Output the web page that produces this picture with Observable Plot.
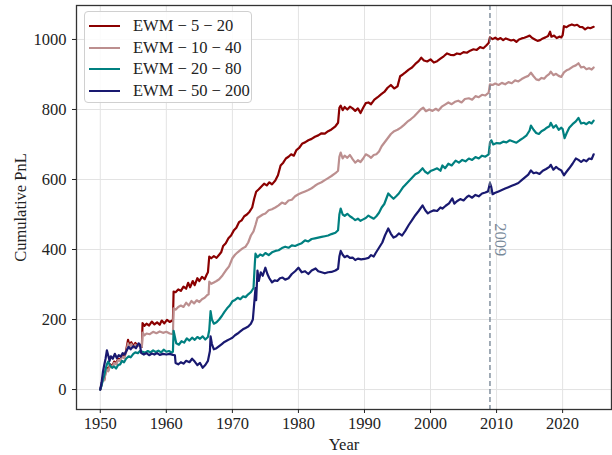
<!DOCTYPE html>
<html>
<head>
<meta charset="utf-8">
<script src="https://cdn.jsdelivr.net/npm/d3@7"></script>
<script src="https://cdn.jsdelivr.net/npm/@observablehq/plot@0.6"></script>
<style>
  html, body { margin: 0; padding: 0; background: #fff; }
  #wrap { position: relative; width: 612px; height: 455px; font-family: "Liberation Serif", "DejaVu Serif", serif; }
  #legend { position: absolute; left: 84px; top: 11px; width: 168px; height: 92px; box-sizing: border-box;
    border: 1px solid #d0d0d0; border-radius: 4px; background: rgba(255,255,255,0.85); }
  .row { position: absolute; left: 0; height: 20px; display: flex; align-items: center; font-size: 16.5px; color: #222; white-space: nowrap; }
  .sw { width: 31px; height: 2px; margin-left: 4px; margin-right: 13px; }
</style>
</head>
<body>
<div id="wrap"></div>
<script>
const seriesNames = ["EWM \u2212 5 \u2212 20", "EWM \u2212 10 \u2212 40", "EWM \u2212 20 \u2212 80", "EWM \u2212 50 \u2212 200"];
const seriesColors = ["#8b0000", "#bc8f8f", "#008080", "#191970"];
const xTicks = [1950, 1960, 1970, 1980, 1990, 2000, 2010, 2020];
const yTicks = [0, 200, 400, 600, 800, 1000];
const eventYear = [2009];
const eventLabel = ["2009"];

const ewm5_20 = [[1950.0,0],[1950.2,15],[1950.4,35],[1950.6,28],[1950.8,50],[1951.0,62],[1951.2,55],[1951.5,72],[1951.8,66],[1952.1,80],[1952.4,74],[1952.7,88],[1953.0,85],[1953.3,98],[1953.6,92],[1953.9,110],[1954.2,142],[1954.4,128],[1954.7,135],[1955.0,124],[1955.3,133],[1955.6,126],[1956.0,128],[1956.3,122],[1956.4,190],[1956.7,182],[1957.0,188],[1957.4,183],[1957.8,194],[1958.2,186],[1958.6,192],[1959.0,185],[1959.3,197],[1959.7,189],[1960.1,199],[1960.5,193],[1960.9,197],[1961.0,196],[1961.1,280],[1961.4,278],[1961.8,286],[1962.2,282],[1962.6,294],[1963.0,288],[1963.3,305],[1963.6,292],[1964.0,310],[1964.3,298],[1964.7,318],[1965.0,310],[1965.4,322],[1965.8,315],[1966.1,328],[1966.3,335],[1966.5,380],[1966.8,375],[1967.2,381],[1967.6,376],[1968.0,385],[1968.3,392],[1968.6,410],[1969.0,418],[1969.4,432],[1969.8,440],[1970.2,454],[1970.6,462],[1971.0,478],[1971.4,483],[1971.8,495],[1972.2,500],[1972.6,508],[1973.0,520],[1973.3,545],[1973.6,565],[1974.0,572],[1974.4,580],[1974.8,588],[1975.2,583],[1975.6,592],[1976.0,586],[1976.5,597],[1976.9,612],[1977.3,640],[1977.7,648],[1978.1,660],[1978.5,665],[1978.9,672],[1979.3,668],[1979.7,684],[1980.1,690],[1980.6,703],[1981.0,706],[1981.5,712],[1982.0,716],[1982.5,722],[1983.0,726],[1983.5,732],[1984.0,731],[1984.5,738],[1985.0,743],[1985.6,752],[1986.0,762],[1986.2,805],[1986.4,811],[1986.7,798],[1987.0,807],[1987.4,800],[1987.8,808],[1988.2,803],[1988.6,796],[1989.0,803],[1989.4,790],[1989.8,805],[1990.2,818],[1990.6,820],[1991.0,815],[1991.5,828],[1992.0,835],[1992.5,843],[1993.0,850],[1993.5,862],[1994.0,870],[1994.5,860],[1995.0,866],[1995.4,895],[1995.8,900],[1996.2,906],[1996.7,914],[1997.2,920],[1997.7,930],[1998.2,938],[1998.6,948],[1999.0,940],[1999.5,937],[2000.0,943],[2000.5,934],[2001.0,938],[2001.5,945],[2002.0,952],[2002.5,960],[2003.0,956],[2003.5,955],[2004.0,960],[2004.5,958],[2005.0,964],[2005.5,962],[2006.0,968],[2006.5,972],[2007.0,970],[2007.5,978],[2008.0,975],[2008.4,982],[2008.8,990],[2009.0,1006],[2009.4,1001],[2009.8,1005],[2010.2,1000],[2010.6,1004],[2011.0,998],[2011.4,1003],[2011.8,1000],[2012.2,997],[2012.6,999],[2013.0,993],[2013.4,1000],[2013.8,1003],[2014.2,1005],[2014.6,1008],[2015.0,1011],[2015.4,1004],[2015.8,1000],[2016.2,996],[2016.6,998],[2017.0,1003],[2017.4,1006],[2017.8,1010],[2018.1,1022],[2018.3,1008],[2018.7,1011],[2019.1,1004],[2019.5,1008],[2019.8,1006],[2020.0,1012],[2020.2,1038],[2020.6,1035],[2021.0,1040],[2021.4,1043],[2021.8,1040],[2022.2,1042],[2022.6,1036],[2023.0,1035],[2023.4,1029],[2023.8,1034],[2024.2,1032],[2024.7,1036]];

const ewm10_40 = [[1950.0,0],[1950.2,14],[1950.4,32],[1950.6,26],[1950.8,48],[1951.0,58],[1951.2,52],[1951.5,68],[1951.8,64],[1952.1,76],[1952.4,72],[1952.7,84],[1953.0,82],[1953.3,94],[1953.6,90],[1953.9,105],[1954.2,132],[1954.4,122],[1954.7,130],[1955.0,120],[1955.3,128],[1955.6,124],[1956.0,126],[1956.3,122],[1956.4,163],[1956.7,155],[1957.0,160],[1957.5,158],[1958.0,165],[1958.5,161],[1959.0,166],[1959.5,162],[1960.0,165],[1960.5,160],[1961.0,158],[1961.1,232],[1961.4,228],[1961.8,236],[1962.2,240],[1962.6,236],[1963.0,248],[1963.4,240],[1963.8,253],[1964.2,246],[1964.6,255],[1965.0,250],[1965.4,258],[1965.8,262],[1966.2,270],[1966.4,272],[1966.5,308],[1966.8,302],[1967.2,306],[1967.6,310],[1968.0,315],[1968.5,326],[1969.0,340],[1969.5,352],[1970.0,375],[1970.4,385],[1970.8,392],[1971.2,398],[1971.6,404],[1972.0,408],[1972.4,420],[1972.8,440],[1973.2,452],[1973.5,470],[1973.8,490],[1974.2,495],[1974.6,500],[1975.0,503],[1975.5,512],[1976.0,515],[1976.5,520],[1977.0,526],[1977.5,534],[1978.0,530],[1978.5,540],[1979.0,542],[1979.5,552],[1980.0,558],[1980.5,562],[1981.0,566],[1981.5,570],[1982.0,575],[1982.5,582],[1983.0,588],[1983.5,592],[1984.0,598],[1984.5,604],[1985.0,610],[1985.6,618],[1986.0,625],[1986.2,665],[1986.4,677],[1986.7,660],[1987.0,668],[1987.4,662],[1987.8,670],[1988.2,658],[1988.6,648],[1989.0,655],[1989.4,650],[1989.8,660],[1990.2,672],[1990.6,668],[1991.0,662],[1991.4,670],[1991.8,672],[1992.2,680],[1992.6,695],[1993.0,705],[1993.6,720],[1994.0,730],[1994.5,738],[1995.0,742],[1995.5,748],[1996.0,756],[1996.5,765],[1997.0,772],[1997.5,780],[1998.0,790],[1998.5,800],[1998.9,805],[1999.3,795],[1999.8,800],[2000.3,796],[2000.8,802],[2001.2,797],[2001.7,808],[2002.2,814],[2002.7,820],[2003.2,815],[2003.7,822],[2004.2,825],[2004.7,820],[2005.2,830],[2005.8,832],[2006.3,828],[2006.8,838],[2007.3,835],[2007.8,842],[2008.3,840],[2008.8,848],[2009.0,872],[2009.4,870],[2009.8,874],[2010.3,870],[2010.8,876],[2011.3,872],[2011.8,878],[2012.3,875],[2012.8,883],[2013.3,880],[2013.8,887],[2014.3,892],[2014.8,896],[2015.2,905],[2015.6,895],[2016.0,886],[2016.4,884],[2016.8,890],[2017.2,888],[2017.6,896],[2018.0,902],[2018.2,908],[2018.6,898],[2019.0,902],[2019.4,896],[2019.8,893],[2020.2,906],[2020.6,912],[2021.0,915],[2021.5,922],[2022.0,926],[2022.4,932],[2022.8,920],[2023.2,922],[2023.6,915],[2024.0,918],[2024.4,914],[2024.7,920]];

const ewm20_80 = [[1950.0,0],[1950.2,12],[1950.4,28],[1950.6,40],[1950.8,58],[1951.0,72],[1951.2,80],[1951.5,68],[1951.8,62],[1952.1,66],[1952.4,60],[1952.7,70],[1953.0,72],[1953.3,82],[1953.6,78],[1953.9,88],[1954.3,95],[1954.6,92],[1955.0,102],[1955.3,106],[1955.7,104],[1956.0,110],[1956.4,108],[1956.8,105],[1957.2,110],[1957.6,106],[1958.0,112],[1958.4,107],[1958.8,111],[1959.2,106],[1959.6,114],[1960.0,108],[1960.4,110],[1960.8,106],[1961.0,108],[1961.1,168],[1961.3,150],[1961.5,132],[1961.9,128],[1962.3,138],[1962.7,134],[1963.1,146],[1963.5,140],[1963.9,148],[1964.3,142],[1964.7,150],[1965.1,145],[1965.5,152],[1965.9,143],[1966.3,150],[1966.5,170],[1966.7,224],[1966.9,200],[1967.2,188],[1967.6,192],[1968.0,200],[1968.4,210],[1968.8,222],[1969.2,232],[1969.6,240],[1970.0,252],[1970.4,256],[1970.8,262],[1971.2,258],[1971.6,266],[1972.0,264],[1972.4,272],[1972.8,278],[1973.2,290],[1973.4,360],[1973.5,388],[1973.8,378],[1974.2,386],[1974.6,382],[1975.0,390],[1975.5,384],[1976.0,392],[1976.5,396],[1977.0,398],[1977.5,404],[1978.0,408],[1978.5,405],[1979.0,412],[1979.5,410],[1980.0,414],[1980.5,418],[1981.0,426],[1981.5,423],[1982.0,430],[1982.5,432],[1983.0,434],[1983.5,436],[1984.0,438],[1984.5,440],[1985.0,444],[1985.6,448],[1986.0,455],[1986.2,500],[1986.4,517],[1986.7,500],[1987.0,496],[1987.4,502],[1987.8,495],[1988.2,490],[1988.6,484],[1989.0,488],[1989.4,482],[1989.8,486],[1990.2,490],[1990.6,497],[1991.0,492],[1991.4,488],[1991.8,495],[1992.2,505],[1992.6,520],[1993.0,530],[1993.6,560],[1994.0,552],[1994.4,545],[1994.8,552],[1995.2,560],[1995.8,577],[1996.2,585],[1996.7,595],[1997.2,605],[1997.7,615],[1998.2,620],[1998.8,632],[1999.2,622],[1999.6,617],[2000.0,624],[2000.5,628],[2001.0,632],[2001.5,625],[2001.8,640],[2002.2,632],[2002.7,645],[2003.2,640],[2003.8,654],[2004.3,648],[2004.8,656],[2005.3,652],[2005.8,660],[2006.3,656],[2006.8,664],[2007.3,660],[2007.8,668],[2008.3,665],[2008.8,672],[2009.0,705],[2009.2,712],[2009.5,700],[2010.0,704],[2010.5,703],[2011.0,708],[2011.5,706],[2012.0,712],[2012.6,708],[2013.0,705],[2013.5,712],[2014.0,718],[2014.5,725],[2015.0,740],[2015.2,754],[2015.6,742],[2016.0,733],[2016.4,730],[2016.8,738],[2017.2,742],[2017.6,748],[2018.0,752],[2018.2,762],[2018.6,748],[2019.0,755],[2019.4,742],[2019.8,748],[2020.0,744],[2020.3,718],[2020.6,732],[2021.0,748],[2021.5,758],[2022.0,766],[2022.4,776],[2022.8,760],[2023.2,762],[2023.6,758],[2024.0,764],[2024.4,760],[2024.7,768]];

const ewm50_200 = [[1950.0,0],[1950.2,20],[1950.4,50],[1950.6,70],[1950.8,88],[1951.0,112],[1951.2,98],[1951.4,82],[1951.6,95],[1951.9,88],[1952.2,102],[1952.5,90],[1952.8,98],[1953.1,94],[1953.4,104],[1953.7,100],[1954.0,112],[1954.3,122],[1954.6,115],[1955.0,124],[1955.4,118],[1955.8,132],[1956.0,128],[1956.2,104],[1956.6,100],[1957.0,104],[1957.4,98],[1957.8,103],[1958.2,100],[1958.6,104],[1959.0,99],[1959.5,102],[1960.0,100],[1960.5,102],[1961.0,99],[1961.3,98],[1961.4,76],[1961.8,72],[1962.2,78],[1962.6,74],[1963.0,82],[1963.5,78],[1963.9,88],[1964.3,80],[1964.7,70],[1965.1,76],[1965.5,62],[1965.9,70],[1966.3,82],[1966.6,110],[1966.7,152],[1966.9,130],[1967.2,115],[1967.6,118],[1968.0,124],[1968.4,130],[1968.8,136],[1969.2,140],[1969.6,144],[1970.0,148],[1970.4,155],[1970.8,160],[1971.2,166],[1971.6,172],[1972.0,176],[1972.4,180],[1972.8,188],[1973.1,200],[1973.3,245],[1973.5,290],[1973.6,255],[1973.8,340],[1974.0,310],[1974.3,335],[1974.6,325],[1975.0,348],[1975.3,330],[1975.6,318],[1976.0,306],[1976.4,312],[1976.8,310],[1977.2,318],[1977.6,320],[1978.0,314],[1978.5,318],[1979.0,330],[1979.5,338],[1980.0,348],[1980.5,335],[1981.0,338],[1981.5,330],[1982.0,340],[1982.6,346],[1983.0,338],[1983.5,335],[1984.0,332],[1984.5,335],[1985.0,336],[1985.6,340],[1986.0,345],[1986.2,380],[1986.4,396],[1986.7,385],[1987.0,378],[1987.4,382],[1987.8,376],[1988.2,377],[1988.6,370],[1989.0,374],[1989.5,372],[1990.0,373],[1990.6,376],[1991.0,384],[1991.4,380],[1991.7,390],[1992.2,405],[1992.7,420],[1993.1,440],[1993.6,460],[1994.0,445],[1994.4,434],[1994.8,438],[1995.2,446],[1995.7,440],[1996.2,454],[1996.7,470],[1997.2,484],[1997.7,498],[1998.2,510],[1998.8,526],[1999.2,512],[1999.6,503],[2000.0,508],[2000.5,512],[2001.0,510],[2001.5,520],[2001.8,517],[2002.3,525],[2002.8,532],[2003.3,546],[2003.6,531],[2004.0,538],[2004.5,544],[2005.0,540],[2005.5,550],[2005.8,554],[2006.3,548],[2006.8,556],[2007.3,552],[2007.8,560],[2008.3,563],[2008.7,566],[2009.0,590],[2009.2,578],[2009.4,558],[2009.8,562],[2010.3,566],[2010.8,570],[2011.3,574],[2011.8,578],[2012.3,582],[2012.8,586],[2013.3,590],[2013.8,598],[2014.3,606],[2014.8,614],[2015.2,626],[2015.6,618],[2016.0,620],[2016.5,616],[2017.0,625],[2017.5,630],[2018.0,636],[2018.2,642],[2018.6,628],[2019.0,636],[2019.4,630],[2019.8,626],[2020.2,612],[2020.5,620],[2021.0,632],[2021.5,645],[2022.0,660],[2022.4,656],[2022.8,650],[2023.2,656],[2023.6,652],[2024.0,660],[2024.4,658],[2024.7,672]];

const allSeries = [ewm5_20, ewm10_40, ewm20_80, ewm50_200];

const chart = Plot.plot({
  width: 612,
  height: 455,
  marginLeft: 76,
  marginRight: 1,
  marginTop: 5,
  marginBottom: 46,
  style: { fontFamily: "'Liberation Serif', 'DejaVu Serif', serif", fontSize: "16px", color: "#222", background: "#fff" },
  x: { domain: [1946.4, 2027.4] },
  y: { domain: [-57, 1097] },
  marks: [
    Plot.gridX(xTicks, { stroke: "#e3e3e3", strokeOpacity: 1, strokeWidth: 1 }),
    Plot.gridY(yTicks, { stroke: "#e3e3e3", strokeOpacity: 1, strokeWidth: 1 }),
    ...allSeries.map((s, i) => Plot.line(s, { x: d => d[0], y: d => d[1], stroke: seriesColors[i], strokeWidth: 2.2, strokeLinejoin: "round" })),
    Plot.ruleX(eventYear, { stroke: "#708090", strokeWidth: 1.3, strokeDasharray: "5,3" }),
    Plot.text(eventLabel, { x: eventYear, y: [428], text: d => d, rotate: 90, dx: 10, fill: "#778899", fontSize: 16.5 }),
    Plot.frame({ stroke: "#333", strokeWidth: 1.3 }),
    Plot.axisX(xTicks, { tickFormat: d => String(d), tickSize: 4, tickPadding: 4, fontSize: 16.5, label: "Year", labelAnchor: "center", labelArrow: "none", labelOffset: 40, fill: "#222" }),
    Plot.axisY(yTicks, { tickFormat: d => String(d), tickSize: 4, tickPadding: 6, fontSize: 16.5, label: "Cumulative PnL", labelAnchor: "center", labelArrow: "none", labelOffset: 62, fill: "#222" })
  ]
});

const wrap = document.getElementById("wrap");
wrap.appendChild(chart);

const legend = document.createElement("div");
legend.id = "legend";
seriesNames.forEach((name, i) => {
  const row = document.createElement("div");
  row.className = "row";
  row.style.top = (4 + i * 21.5) + "px";
  const sw = document.createElement("span");
  sw.className = "sw";
  sw.style.background = seriesColors[i];
  const t = document.createElement("span");
  t.textContent = name;
  row.appendChild(sw);
  row.appendChild(t);
  legend.appendChild(row);
});
wrap.appendChild(legend);
</script>
</body>
</html>
